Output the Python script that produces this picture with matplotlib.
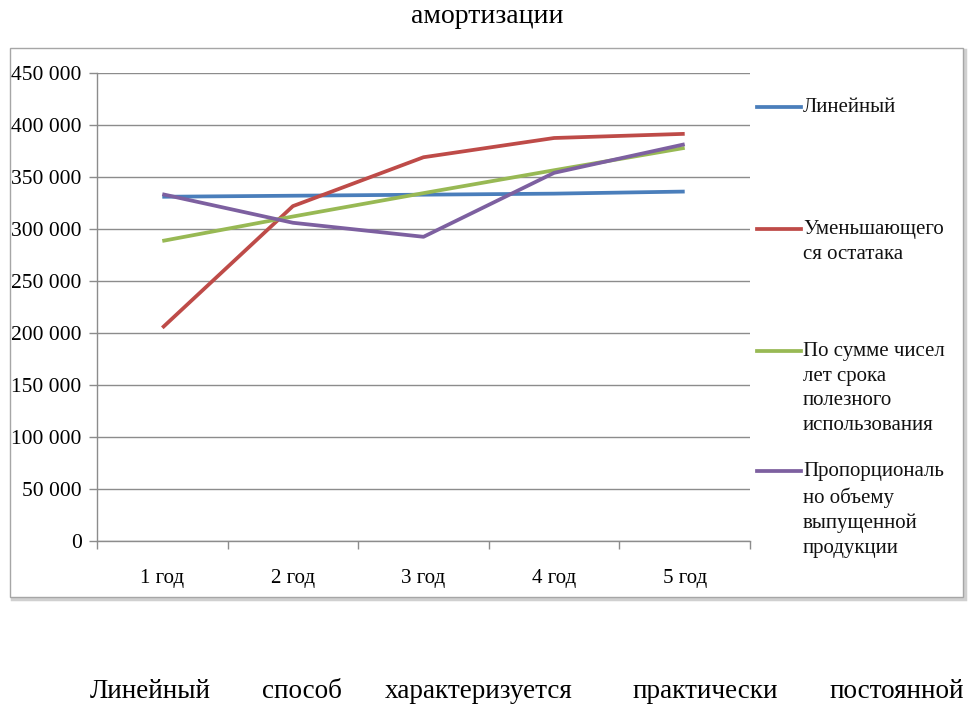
import matplotlib
matplotlib.use("Agg")
import matplotlib.pyplot as plt
from matplotlib.lines import Line2D
from matplotlib.patches import Rectangle
from matplotlib.ticker import FixedLocator, FuncFormatter

plt.rcParams['font.family'] = ['Liberation Serif', 'DejaVu Serif']

categories = ["1 год", "2 год", "3 год", "4 год", "5 год"]
series_names = ["Линейный", "Уменьшающего\nся остатака",
                "По сумме чисел\nлет срока\nполезного\nиспользования",
                "Пропорциональ\nно объему\nвыпущенной\nпродукции"]
linear = [331000, 332000, 333000, 334000, 336000]
declining = [205000, 322000, 369000, 387500, 391500]
sum_years = [288500, 312000, 334500, 356500, 378000]
proportional = [333500, 306000, 292500, 354000, 381500]
colors = ["#4A7EBB", "#BE4B48", "#98B954", "#7D60A0"]
y_ticks = [0, 50000, 100000, 150000, 200000, 250000, 300000, 350000, 400000, 450000]

W, H = 974, 706
fig = plt.figure(figsize=(W / 100, H / 100), dpi=100)

def fx(px):
    return px / W

def fy(py):
    return 1 - py / H

# chart box with light shadow
fig.patches.append(Rectangle((fx(12), fy(599)), fx(953), (599 - 50) / H,
                             transform=fig.transFigure, facecolor="none",
                             edgecolor="#d0d0d0", lw=2.5, zorder=-2))
fig.patches.append(Rectangle((fx(10), fy(597)), fx(953), (597 - 48) / H,
                             transform=fig.transFigure, facecolor="white",
                             edgecolor="#a6a6a6", lw=1.0, zorder=-1))

ax = fig.add_axes([fx(97), fy(541), fx(750 - 97), (541 - 73) / H])
ax.set_zorder(2)
ax.set_facecolor("none")
x = list(range(len(categories)))
all_series = [linear, declining, sum_years, proportional]
for vals, c in zip(all_series, colors):
    ax.plot(x, vals, color=c, lw=2.7, solid_capstyle="butt", zorder=3)

ax.set_xlim(-0.5, len(categories) - 0.5)
ax.set_ylim(0, 450000)
ax.yaxis.set_major_locator(FixedLocator(y_ticks))
ax.yaxis.set_major_formatter(FuncFormatter(lambda v, p: f"{int(v):,}".replace(",", " ")))
ax.grid(axis="y", color="#8c8c8c", lw=1.0)
ax.set_axisbelow(True)

ax.xaxis.set_major_locator(FixedLocator([i - 0.5 for i in range(len(categories) + 1)]))
ax.xaxis.set_major_formatter(FuncFormatter(lambda v, p: ""))
ax.xaxis.set_minor_locator(FixedLocator(x))
ax.set_xticklabels(categories, minor=True)
ax.tick_params(axis="x", which="major", length=6, color="#8c8c8c", width=1)
ax.tick_params(axis="x", which="minor", length=0, pad=20, labelsize=15)
ax.tick_params(axis="y", length=6, color="#8c8c8c", width=1, pad=5, labelsize=15.5)

for s in ["top", "right"]:
    ax.spines[s].set_visible(False)
for s in ["left", "bottom"]:
    ax.spines[s].set_color("#8c8c8c")
    ax.spines[s].set_linewidth(1)

# manual legend
legend_y = [107, 229, 351, 471]
for name, c, ly in zip(series_names, colors, legend_y):
    fig.add_artist(Line2D([fx(757), fx(801)], [fy(ly), fy(ly)], color=c, lw=2.7,
                          transform=fig.transFigure))
    fig.text(fx(803), fy(ly - 9), name, ha="left", va="top", fontsize=15,
             linespacing=1.4, color="#111111")

# surrounding document text
fig.text(0.5, fy(23), "амортизации", ha="center", va="baseline", fontsize=20)
words = ["Линейный", "способ", "характеризуется", "практически", "постоянной"]
word_x = [90, 262, 385, 633, 830]
for wd, wx in zip(words, word_x):
    fig.text(fx(wx), fy(698), wd, ha="left", va="baseline", fontsize=19.5)

fig.savefig("out.png", dpi=100, facecolor="white")
